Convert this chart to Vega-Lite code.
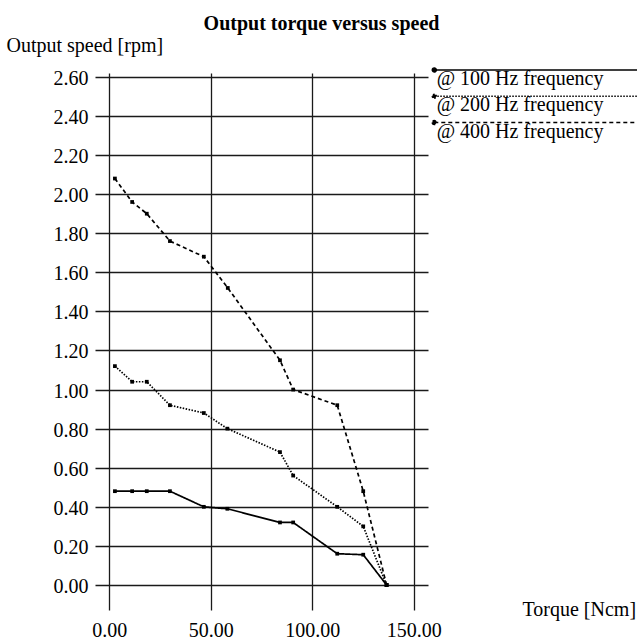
{
  "$schema": "https://vega.github.io/schema/vega-lite/v6.json",
  "width": 333,
  "height": 537,
  "autosize": {"type": "none"},
  "padding": {"left": 95, "top": 73, "right": 209, "bottom": 32},
  "background": "white",
  "title": {
    "text": "Output torque versus speed",
    "font": "Liberation Serif",
    "fontSize": 20,
    "fontWeight": "bold",
    "color": "black",
    "anchor": "middle",
    "dx": 60,
    "offset": 1
  },
  "data": {
    "values": [
      {"torque": 2.8, "speed": 0.48, "freq": "@ 100 Hz frequency"},
      {"torque": 11.3, "speed": 0.48, "freq": "@ 100 Hz frequency"},
      {"torque": 18.5, "speed": 0.48, "freq": "@ 100 Hz frequency"},
      {"torque": 29.9, "speed": 0.48, "freq": "@ 100 Hz frequency"},
      {"torque": 46.6, "speed": 0.40, "freq": "@ 100 Hz frequency"},
      {"torque": 58.2, "speed": 0.39, "freq": "@ 100 Hz frequency"},
      {"torque": 84.1, "speed": 0.32, "freq": "@ 100 Hz frequency"},
      {"torque": 90.6, "speed": 0.32, "freq": "@ 100 Hz frequency"},
      {"torque": 112.3, "speed": 0.16, "freq": "@ 100 Hz frequency"},
      {"torque": 125.1, "speed": 0.155, "freq": "@ 100 Hz frequency"},
      {"torque": 136.6, "speed": 0.0, "freq": "@ 100 Hz frequency"},
      {"torque": 2.8, "speed": 1.12, "freq": "@ 200 Hz frequency"},
      {"torque": 11.3, "speed": 1.04, "freq": "@ 200 Hz frequency"},
      {"torque": 18.5, "speed": 1.04, "freq": "@ 200 Hz frequency"},
      {"torque": 29.9, "speed": 0.92, "freq": "@ 200 Hz frequency"},
      {"torque": 46.6, "speed": 0.88, "freq": "@ 200 Hz frequency"},
      {"torque": 58.2, "speed": 0.80, "freq": "@ 200 Hz frequency"},
      {"torque": 84.1, "speed": 0.68, "freq": "@ 200 Hz frequency"},
      {"torque": 90.6, "speed": 0.56, "freq": "@ 200 Hz frequency"},
      {"torque": 112.3, "speed": 0.40, "freq": "@ 200 Hz frequency"},
      {"torque": 125.1, "speed": 0.30, "freq": "@ 200 Hz frequency"},
      {"torque": 136.6, "speed": 0.0, "freq": "@ 200 Hz frequency"},
      {"torque": 2.8, "speed": 2.08, "freq": "@ 400 Hz frequency"},
      {"torque": 11.3, "speed": 1.96, "freq": "@ 400 Hz frequency"},
      {"torque": 18.5, "speed": 1.90, "freq": "@ 400 Hz frequency"},
      {"torque": 29.9, "speed": 1.76, "freq": "@ 400 Hz frequency"},
      {"torque": 46.6, "speed": 1.68, "freq": "@ 400 Hz frequency"},
      {"torque": 58.4, "speed": 1.52, "freq": "@ 400 Hz frequency"},
      {"torque": 84.1, "speed": 1.15, "freq": "@ 400 Hz frequency"},
      {"torque": 90.6, "speed": 1.00, "freq": "@ 400 Hz frequency"},
      {"torque": 112.3, "speed": 0.92, "freq": "@ 400 Hz frequency"},
      {"torque": 125.1, "speed": 0.48, "freq": "@ 400 Hz frequency"},
      {"torque": 136.6, "speed": 0.0, "freq": "@ 400 Hz frequency"}
    ]
  },
  "mark": {
    "type": "line",
    "color": "black",
    "strokeWidth": 1.7,
    "point": {"filled": true, "color": "black", "shape": "square", "size": 14}
  },
  "encoding": {
    "x": {
      "field": "torque",
      "type": "quantitative",
      "scale": {"domain": [-7, 157], "nice": false, "zero": false},
      "axis": {
        "values": [0, 50, 100, 150],
        "format": ".2f",
        "grid": true,
        "domain": false,
        "ticks": false,
        "labelPadding": 10,
        "labelFlush": false,
        "labelFont": "Liberation Serif",
        "labelFontSize": 20,
        "labelColor": "black",
        "gridColor": "#1a1a1a",
        "gridWidth": 1.3,
        "title": "Torque [Ncm]",
        "titleFont": "Liberation Serif",
        "titleFontSize": 20,
        "titleFontWeight": "normal",
        "titleColor": "black",
        "titleAlign": "left",
        "titleBaseline": "alphabetic",
        "titleX": 427,
        "titleY": 5
      }
    },
    "y": {
      "field": "speed",
      "type": "quantitative",
      "scale": {"domain": [-0.128, 2.62], "nice": false, "zero": false},
      "axis": {
        "values": [0, 0.2, 0.4, 0.6, 0.8, 1.0, 1.2, 1.4, 1.6, 1.8, 2.0, 2.2, 2.4, 2.6],
        "format": ".2f",
        "grid": true,
        "domain": false,
        "ticks": false,
        "labelPadding": 7,
        "labelOffset": 1.5,
        "labelFlush": false,
        "labelFont": "Liberation Serif",
        "labelFontSize": 20,
        "labelColor": "black",
        "gridColor": "#1a1a1a",
        "gridWidth": 1.3,
        "title": "Output speed [rpm]",
        "titleFont": "Liberation Serif",
        "titleFontSize": 20,
        "titleFontWeight": "normal",
        "titleColor": "black",
        "titleAngle": 0,
        "titleAlign": "left",
        "titleBaseline": "alphabetic",
        "titleX": -89,
        "titleY": -22
      }
    },
    "strokeDash": {
      "field": "freq",
      "type": "nominal",
      "scale": {
        "domain": ["@ 100 Hz frequency", "@ 200 Hz frequency", "@ 400 Hz frequency"],
        "range": [[1, 0], [1.5, 1.5], [4, 3]]
      },
      "legend": {
        "orient": "none",
        "legendX": 329.3,
        "legendY": -4,
        "title": null,
        "padding": 0,
        "symbolType": "M0,-9L215,-9M-2,-9a2,2 0 1,0 4,0a2,2 0 1,0 -4,0",
        "symbolSize": 4,
        "symbolStrokeWidth": 1.5,
        "symbolStrokeColor": "black",
        "symbolFillColor": "black",
        "labelFont": "Liberation Serif",
        "labelFontSize": 20,
        "labelColor": "black",
        "labelOffset": -7.6,
        "labelLimit": 0,
        "rowPadding": 2.3,
        "encode": {
          "symbols": {
            "update": {
              "stroke": {"value": "black"},
              "strokeWidth": {"value": 1.5},
              "fill": {"value": "black"},
              "opacity": {"value": 1},
              "strokeOpacity": {"value": 1}
            }
          }
        }
      }
    }
  },
  "config": {"view": {"stroke": null}}
}
